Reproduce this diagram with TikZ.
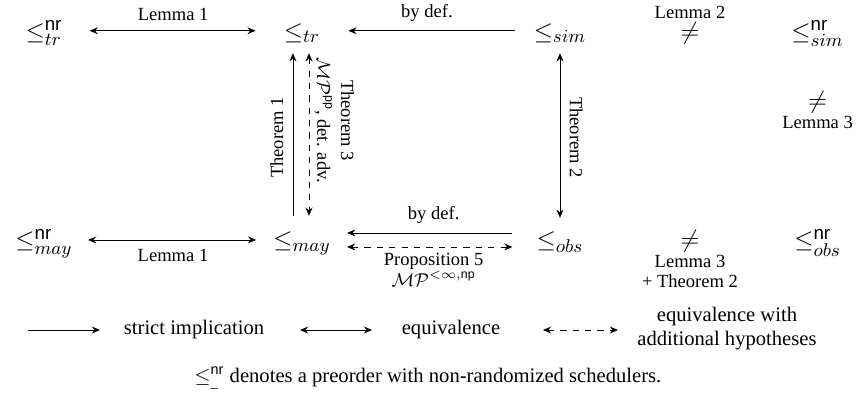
\documentclass[tikz,border=0pt]{standalone}
\usepackage{amsmath,amssymb}
\usepackage{fontspec}
\setmainfont{Liberation Serif}
\setsansfont{Liberation Sans}
\usetikzlibrary{arrows.meta,positioning}

\begin{document}
\begin{tikzpicture}[
  every node/.style={font=\small},
  >={Stealth[length=4pt,width=3.4pt,inset=1.4pt]},
  rel/.style={font=\fontsize{13}{15}\selectfont, inner sep=0pt, anchor=base},
  lbl/.style={font=\small, inner sep=4.5pt},
  legtxt/.style={font=\normalsize, align=center},
  impl/.style={->},
  equiv/.style={<->},
  hyp/.style={<->, dashed}
]
  \useasboundingbox (0,0) rectangle (14.595,-6.854);
  \def\ya{-0.665}\def\yb{-4.228}\def\yl{-5.627}
  \def\xa{0.750}\def\xb{5.149}\def\xc{9.548}\def\xd{11.765}\def\xe{13.94}

  % preorders
  \node[rel] (trnr)  at (\xa,\ya) {$\leq^{\mathsf{nr}}_{tr}$};
  \node[rel] (tr)    at (\xb,\ya) {$\leq_{tr}$};
  \node[rel] (sim)   at (\xc,\ya) {$\leq_{sim}$};
  \node[rel] (simnr) at (\xe,\ya) {$\leq^{\mathsf{nr}}_{sim}$};
  \node[rel] (maynr) at (\xa,\yb) {$\leq^{\mathsf{nr}}_{may}$};
  \node[rel] (may)   at (\xb,\yb) {$\leq_{may}$};
  \node[rel] (obs)   at (\xc,\yb) {$\leq_{obs}$};
  \node[rel] (obsnr) at (\xe,\yb) {$\leq^{\mathsf{nr}}_{obs}$};

  % separations
  \node[rel] (neqsim) at (\xd,\ya) {$\neq$};
  \node[lbl, inner sep=1pt, above=0pt of neqsim] (lemtwo) {Lemma 2};
  \node[rel] (neqnr) at (\xe,-1.858) {$\neq$};
  \node[lbl, inner sep=1pt, below=0pt of neqnr] (lemthree) {Lemma 3};
  \node[rel] (neqobs) at (\xd,\yb) {$\neq$};
  \node[lbl, inner sep=1pt, align=center, below=0pt of neqobs] (lemobs) {Lemma 3\\[-1.5pt]+ Theorem 2};

  % top row
  \draw[equiv, shorten <=13pt, shorten >=13.5pt] ([yshift=4pt]trnr.base east)
    -- node[lbl, above] {Lemma 1} ([yshift=4pt]tr.base west);
  \draw[impl, shorten <=9pt, shorten >=13.5pt] ([yshift=4pt]sim.base west)
    -- node[lbl, above] {by def.} ([yshift=4pt]tr.base east);

  % verticals
  \draw[impl, shorten <=7.8pt, shorten >=4.9pt] ([xshift=-4.4pt]may.north)
    -- node[lbl, sloped, above] {Theorem 1} ([xshift=-4.4pt]tr.south);
  \draw[hyp, shorten <=4.9pt, shorten >=7.8pt] ([xshift=3.4pt]tr.south)
    -- node[lbl, sloped, above, align=center, pos=0.41, inner sep=2.5pt]
       {Theorem 3\\[0.5pt]$\mathcal{MP}^{\mathsf{pp}}$, det. adv.} ([xshift=3.4pt]may.north);
  \draw[equiv, shorten <=4.9pt, shorten >=6.8pt] (sim.south)
    -- node[lbl, sloped, above] {Theorem 2} (obs.north);

  % bottom row
  \draw[equiv, shorten <=7.3pt, shorten >=8.2pt] ([yshift=3.9pt]maynr.base east)
    -- node[lbl, below] {Lemma 1} ([yshift=3.9pt]may.base west);
  \draw[impl, shorten <=11.6pt, shorten >=7.8pt] ([yshift=7.3pt]obs.base west)
    -- node[lbl, above] {by def.} ([yshift=7.3pt]may.base east);
  \draw[hyp, shorten <=7.8pt, shorten >=11.6pt] ([yshift=0.5pt]may.base east)
    -- node[lbl, below, align=center, inner sep=3pt]
       {Proposition 5\\[-1pt]$\mathcal{MP}^{<\infty,\mathsf{np}}$} ([yshift=0.5pt]obs.base west);

  % legend
  \coordinate (k1a) at (0.477,\yl);  \coordinate (k1b) at (1.705,\yl);
  \coordinate (k2a) at (5.115,\yl);  \coordinate (k2b) at (6.343,\yl);
  \coordinate (k3a) at (9.258,\yl);  \coordinate (k3b) at (10.537,\yl);
  \draw[impl] (k1a) -- (k1b);
  \draw[equiv] (k2a) -- (k2b);
  \draw[hyp] (k3a) -- (k3b);
  \node[legtxt] (kimpl) at (3.308,\yl) {strict implication};
  \node[legtxt] (kequiv) at (7.690,\yl) {equivalence};
  \node[legtxt] (khyp) at (12.395,-5.60) {equivalence with\\additional hypotheses};

  \node[legtxt] (note) at (7.297,-6.445)
    {$\leq^{\mathsf{nr}}_{\_}$ denotes a preorder with non-randomized schedulers.};
\end{tikzpicture}
\end{document}
